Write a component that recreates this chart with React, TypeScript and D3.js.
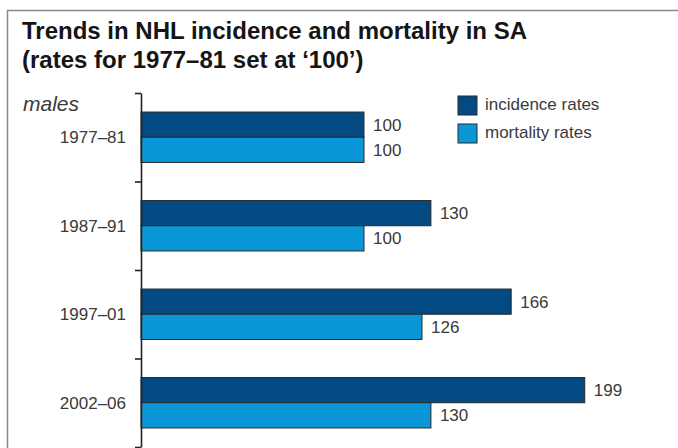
import React, { useEffect, useRef } from 'react';
import * as d3 from 'd3';

const periods = ['1977–81', '1987–91', '1997–01', '2002–06'];
const incidence = [100, 130, 166, 199];
const mortality = [100, 100, 126, 130];
const seriesNames = ['incidence rates', 'mortality rates'];
const colors = ['#044a82', '#0a97d8'];

const App: React.FC = () => {
  const svgRef = useRef<SVGSVGElement | null>(null);

  useEffect(() => {
    if (!svgRef.current) return;
    const svg = d3.select(svgRef.current);
    svg.selectAll('*').remove();

    const width = 678;
    const height = 448;
    const font = "'Liberation Sans', Arial, sans-serif";

    // frame
    svg.append('rect')
      .attr('x', 7.5).attr('y', 10.5)
      .attr('width', width + 10).attr('height', height + 10)
      .attr('fill', 'none').attr('stroke', '#8a8a8a').attr('stroke-width', 1.5);

    // title
    const title = svg.append('text')
      .attr('font-family', font).attr('font-weight', 'bold')
      .attr('font-size', 24).attr('fill', '#151515');
    title.append('tspan').attr('x', 22).attr('y', 39).text('Trends in NHL incidence and mortality in SA');
    title.append('tspan').attr('x', 22).attr('y', 68).text('(rates for 1977–81 set at ‘100’)');

    const left = 141;
    const top = 93;
    const bottom = 447;

    const x = d3.scaleLinear().domain([0, 100]).range([left, left + 223]);

    const y = d3.scaleBand<string>()
      .domain(periods)
      .range([top, bottom])
      .paddingInner(0.43)
      .paddingOuter(0.215);

    const sub = d3.scaleBand<number>()
      .domain([0, 1])
      .range([0, y.bandwidth()]);

    const groups = svg.append('g').selectAll('g')
      .data(periods)
      .join('g')
      .attr('transform', d => `translate(0,${y(d)})`);

    [incidence, mortality].forEach((vals, si) => {
      groups.append('rect')
        .attr('x', left)
        .attr('y', sub(si)!)
        .attr('width', (_, i) => x(vals[i]) - left)
        .attr('height', sub.bandwidth())
        .attr('fill', colors[si])
        .attr('stroke', '#2a2a2a')
        .attr('stroke-width', 1);

      groups.append('text')
        .attr('x', (_, i) => x(vals[i]) + 9)
        .attr('y', sub(si)! + sub.bandwidth() / 2)
        .attr('dy', '0.35em')
        .attr('font-family', font)
        .attr('font-size', 17)
        .attr('fill', '#3a3a3a')
        .text((_, i) => vals[i]);
    });

    // category labels
    groups.append('text')
      .attr('x', 126)
      .attr('y', y.bandwidth() / 2)
      .attr('dy', '0.35em')
      .attr('text-anchor', 'end')
      .attr('font-family', font)
      .attr('font-size', 17)
      .attr('fill', '#3a3a3a')
      .text(d => d);

    // axis with ticks between groups
    const yIdx = d3.scaleLinear().domain([0, periods.length]).range([top, top + y.step() * periods.length]);
    const axis = svg.append('g')
      .attr('transform', `translate(${left},0)`)
      .call(d3.axisLeft(yIdx).tickValues(d3.range(periods.length + 1)).tickSize(6).tickSizeOuter(0).tickFormat(() => ''));
    axis.select('.domain').attr('stroke', '#222').attr('stroke-width', 1.6);
    axis.selectAll('.tick line').attr('stroke', '#222').attr('stroke-width', 1.6);

    // males
    svg.append('text')
      .attr('x', 23).attr('y', 111)
      .attr('font-family', font).attr('font-style', 'italic')
      .attr('font-size', 21).attr('fill', '#3a3a3a')
      .text('males');

    // legend
    const legend = svg.append('g').attr('transform', 'translate(458,96)');
    seriesNames.forEach((name, i) => {
      const row = legend.append('g').attr('transform', `translate(0,${i * 28})`);
      row.append('rect')
        .attr('width', 19).attr('height', 19)
        .attr('fill', colors[i]).attr('stroke', '#2a2a2a').attr('stroke-width', 1);
      row.append('text')
        .attr('x', 27).attr('y', 14)
        .attr('font-family', font).attr('font-size', 17).attr('fill', '#3a3a3a')
        .text(name);
    });
  }, []);

  return (
    <svg
      ref={svgRef}
      width={678}
      height={448}
      style={{ position: 'fixed', top: 0, left: 0, background: '#fff' }}
    />
  );
};

export default App;
